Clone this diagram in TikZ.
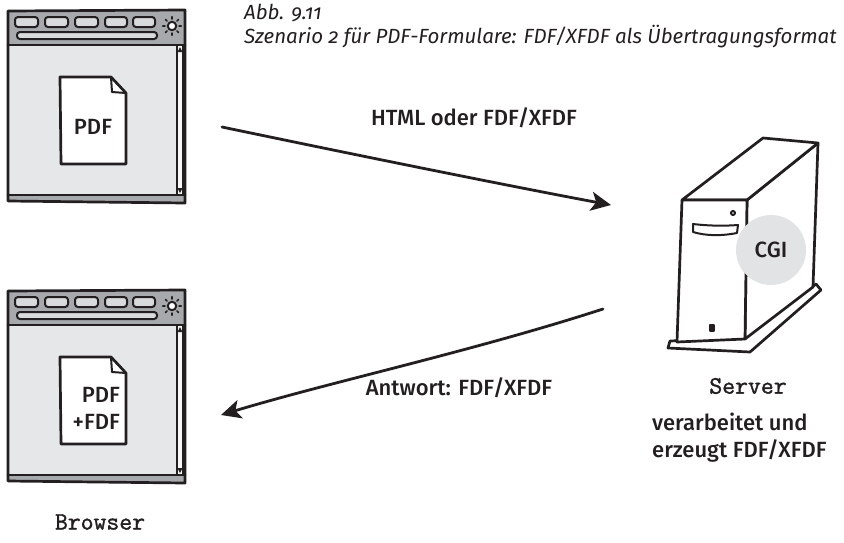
\documentclass[tikz,border=0pt]{standalone}
\usepackage{fontspec}
\setmainfont{Fira Sans}
\newfontfamily\labelfont{Fira Sans Medium}
\newfontfamily\capfont{Fira Sans}[Numbers=OldStyle]
\newfontfamily\handfont{Latin Modern Mono}[FakeBold=1.4]
\usetikzlibrary{arrows.meta,calc}

\definecolor{inkc}{HTML}{231F20}
\definecolor{barfill}{HTML}{A7A9AC}
\definecolor{panefill}{HTML}{E6E7E8}
\definecolor{tabfill}{HTML}{D9DADB}
\definecolor{cgifill}{HTML}{E2E3E4}

\tikzset{
  ink/.style={draw=inkc, line width=2.7pt, line join=round, line cap=round},
  thinink/.style={draw=inkc, line width=2pt, line join=round, line cap=round},
  flow/.style={draw=inkc, line width=2.8pt, line cap=round,
    -{Stealth[length=20pt,width=19pt,inset=5pt]}},
  lbl/.style={font=\labelfont\fontsize{22}{27}\selectfont, text=inkc, inner sep=0pt},
  caption/.style={font=\capfont\itshape\fontsize{20.5}{24}\selectfont, text=inkc,
    inner sep=0pt, align=left},
  hand/.style={font=\handfont\bfseries\fontsize{25}{27}\selectfont, text=inkc, inner sep=0pt},
  % browser window, local origin at the outer top-left corner
  browser/.pic={
    \fill[panefill] (0,1) -- (177,0) -- (177,193) -- (0,191) -- cycle;
    \fill[barfill] (0,1) -- (177,0) -- (177,35) -- (0,35) -- cycle;
    \fill[barfill] (0,185) -- (177,185) -- (177,193) -- (0,191) -- cycle;
    \fill[white!70!panefill] (169,35) rectangle (175,185);
    \draw[thinink] (169,35) -- (169,185) (175,35) -- (175,185);
    \fill[inkc] (172,37) -- (169.5,42) -- (174.5,42) -- cycle;
    \fill[inkc] (172,183) -- (169.5,178) -- (174.5,178) -- cycle;
    \foreach \xa/\xb in {7/30, 37/60, 67/90, 97/119, 125/147}
      \draw[thinink, fill=tabfill, rounded corners=3pt] (\xa,7) rectangle (\xb,17);
    \draw[thinink, fill=tabfill, rounded corners=3pt] (9,22) rectangle (149,29);
    \draw[thinink, fill=white] (164,16) circle[radius=4.2];
    \foreach \a in {0,45,...,315}
      \draw[inkc, line width=1.5pt, line cap=round]
        ($(164,16)+(\a:7)$) -- ($(164,16)+(\a:9.3)$);
    \draw[ink] (0,35) -- (177,35);
    \draw[ink] (0,185) -- (177,185);
    \draw[ink] (0,1) -- (177,0) -- (177,193) -- (0,191) -- cycle;
    \draw[ink, fill=white] (52,67) -- (103,67) -- (118,83) -- (118,154) -- (53,154) -- cycle;
    \draw[thinink] (103,67) -- (104,82) -- (118,83);
  }
}

\begin{document}
\begin{tikzpicture}[x=1pt, y=-1pt]
  \useasboundingbox (0,0) rectangle (844,542);

  % caption
  \node[caption, anchor=north west] (cap) at (244,4)
    {Abb. 9.11\\Szenario 2 für PDF-Formulare: FDF/XFDF als Übertragungsformat};

  % the two browser windows
  \pic (upper) at (8,10) {browser};
  \pic (lower) at (8,290) {browser};
  \node[lbl] (pdf) at (93,127) {PDF};
  \node[lbl, align=right, anchor=east] (pdffdf) at (120,408) {PDF\\+FDF};
  \node[hand] (browser) at (100,522) {Browser};

  % server tower
  \draw[ink, fill=white] (670,341) -- (745,338) -- (816,284) -- (821,290)
    -- (750,352) -- (668,348) -- cycle;
  \draw[ink, fill=white] (747,200) -- (818,143) -- (813,287) -- (745,339) -- cycle;
  \draw[ink, fill=white] (682,200) -- (763,138) -- (818,143) -- (747,200) -- cycle;
  \draw[ink, fill=white] (682,200) -- (747,200) -- (745,339) -- (677,342) -- cycle;
  \draw[thinink] (693,224) .. controls (710,226) and (725,226) .. (738,225)
    -- (737,233) .. controls (722,236) and (706,236) .. (693,232) -- cycle;
  \draw[thinink] (733,213) circle[radius=2];
  \draw[thinink, fill=inkc] (710,325) -- (714,325) -- (714,331) -- (710,331) -- cycle;
  \node[circle, fill=cgifill, minimum size=70pt, inner sep=0pt] (cgi) at (771,250) {};
  \node[lbl] (cgilbl) at (cgi) {CGI};
  \node[hand] (server) at (748,386) {Server};
  \node[lbl, align=left, anchor=north west] (task) at (652,413)
    {verarbeitet und\\erzeugt FDF/XFDF};

  % request and response
  \coordinate (req-from) at (222,127);
  \coordinate (req-to) at (611,205);
  \coordinate (resp-from) at (603,309);
  \coordinate (resp-to) at (221,415);
  \draw[flow] (req-from) .. controls (380,160) and (520,188) .. (req-to);
  \draw[flow] (resp-from) .. controls (470,352) and (330,382) .. (resp-to);
  \node[lbl] (reqlbl) at (474,118) {HTML oder FDF/XFDF};
  \node[lbl] (resplbl) at (459,388) {Antwort: FDF/XFDF};
\end{tikzpicture}
\end{document}
